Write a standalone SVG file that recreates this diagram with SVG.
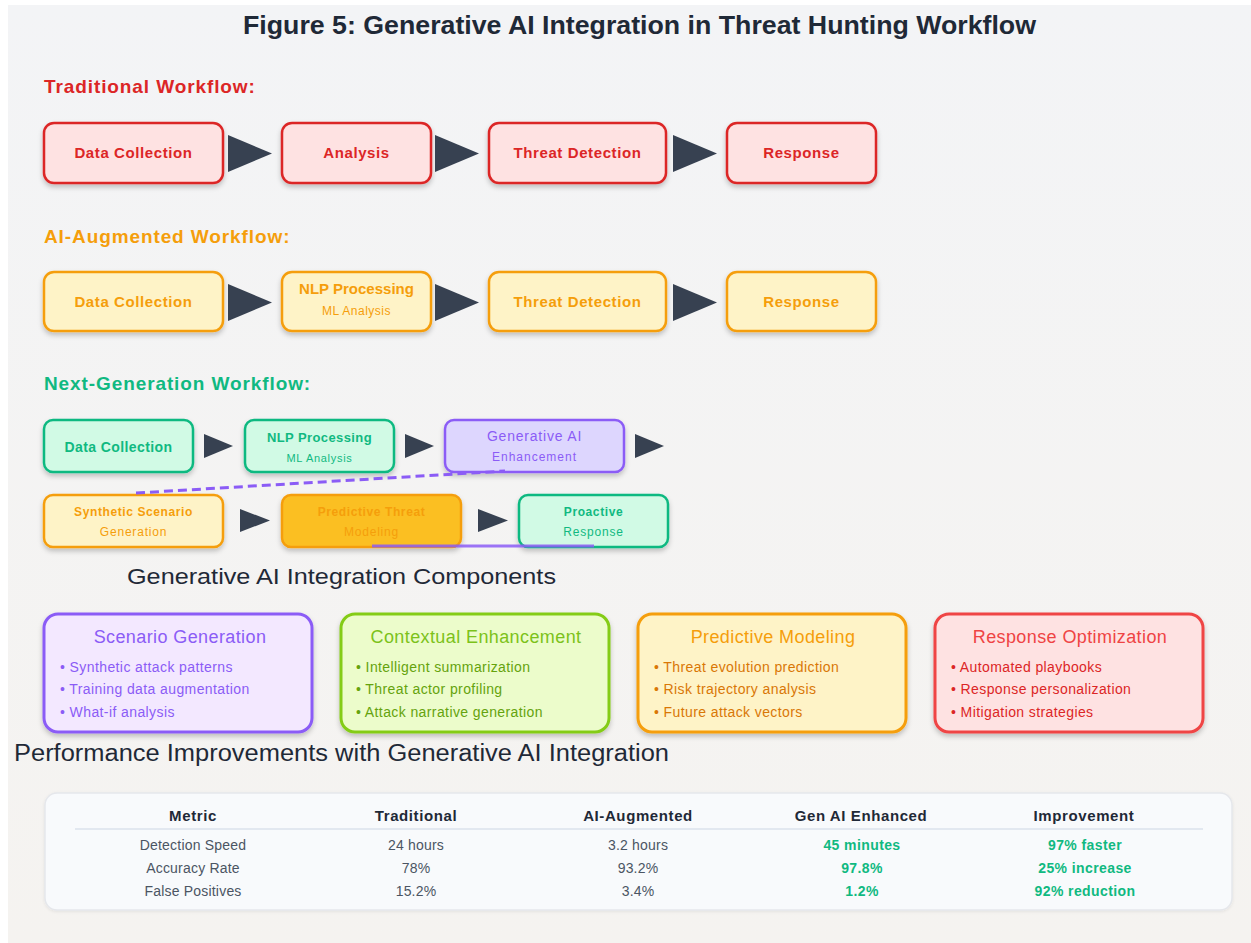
<svg xmlns="http://www.w3.org/2000/svg" width="1251" height="943" viewBox="0 0 1251 943">
  <defs>
    <linearGradient id="bg" x1="0" y1="0" x2="0" y2="1">
      <stop offset="0" stop-color="#f3f4f6"/>
      <stop offset="1" stop-color="#f5f3f0"/>
    </linearGradient>
    <filter id="shadow" x="-10%" y="-20%" width="120%" height="150%">
      <feDropShadow dx="0" dy="3" stdDeviation="2.5" flood-color="#000" flood-opacity="0.22"/>
    </filter>
    <filter id="softShadow" x="-5%" y="-10%" width="110%" height="130%">
      <feDropShadow dx="0" dy="1" stdDeviation="1.5" flood-color="#000" flood-opacity="0.08"/>
    </filter>
  </defs>
  <style>
    text { font-family: "Liberation Sans", Arial, sans-serif; }
    .title { font-size: 26px; font-weight: bold; fill: #1f2937; }
    .section { font-size: 19px; font-weight: bold; letter-spacing: 0.9px; }
    .h2 { font-size: 22px; fill: #1f2937; }
    .node { stroke-width: 2.5; filter: url(#shadow); }
    .red { fill: #fee2e2; stroke: #dc2626; }
    .amber { fill: #fef3c7; stroke: #f59e0b; }
    .amberDark { fill: #fbbf24; stroke: #f59e0b; }
    .green { fill: #d1fae5; stroke: #10b981; }
    .purple { fill: #ddd6fe; stroke: #8b5cf6; }
    .lbl { font-size: 15px; font-weight: bold; text-anchor: middle; letter-spacing: 0.6px; }
    .lblS { font-size: 12px; font-weight: bold; text-anchor: middle; letter-spacing: 0.6px; }
    .sub { font-size: 12px; text-anchor: middle; letter-spacing: 0.8px; }
    .tRed { fill: #dc2626; }
    .tAmber { fill: #f59e0b; }
    .tGreen { fill: #10b981; }
    .tPurple { fill: #8b5cf6; }
    .arrow { fill: #374151; }
    .card { stroke-width: 3; filter: url(#shadow); }
    .cardTitle { font-size: 18px; text-anchor: middle; letter-spacing: 0.4px; }
    .item { font-size: 14px; letter-spacing: 0.4px; }
    .th { font-size: 15px; font-weight: bold; fill: #1f2937; text-anchor: middle; letter-spacing: 0.6px; }
    .td { font-size: 14px; fill: #4b5563; text-anchor: middle; letter-spacing: 0.2px; }
    .tdG { font-size: 14px; font-weight: bold; fill: #10b981; text-anchor: middle; letter-spacing: 0.4px; }
  </style>

  <!-- page background -->
  <rect x="0" y="0" width="1251" height="943" fill="#ffffff"/>
  <rect x="8" y="5" width="1243" height="938" fill="url(#bg)"/>

  <text class="title" x="639.5" y="34" text-anchor="middle" textLength="793" lengthAdjust="spacingAndGlyphs">Figure 5: Generative AI Integration in Threat Hunting Workflow</text>

  <!-- Traditional workflow -->
  <text class="section tRed" x="44" y="93">Traditional Workflow:</text>
  <g id="trad-collection"><rect class="node red" x="44" y="123" width="179" height="60" rx="10"/><text class="lbl tRed" x="133.5" y="158">Data Collection</text></g>
  <g id="trad-analysis"><rect class="node red" x="282" y="123" width="149" height="60" rx="10"/><text class="lbl tRed" x="356.5" y="158">Analysis</text></g>
  <g id="trad-detection"><rect class="node red" x="489" y="123" width="177" height="60" rx="10"/><text class="lbl tRed" x="577.5" y="158">Threat Detection</text></g>
  <g id="trad-response"><rect class="node red" x="727" y="123" width="149" height="60" rx="10"/><text class="lbl tRed" x="801.5" y="158">Response</text></g>

  <!-- AI-augmented workflow -->
  <text class="section tAmber" x="44" y="243">AI-Augmented Workflow:</text>
  <g id="aug-collection"><rect class="node amber" x="44" y="272" width="179" height="59" rx="10"/><text class="lbl tAmber" x="133.5" y="307">Data Collection</text></g>
  <g id="aug-nlp"><rect class="node amber" x="282" y="272" width="149" height="59" rx="10"/><text class="lbl tAmber" x="356.5" y="294" style="letter-spacing:0">NLP Processing</text><text class="sub tAmber" x="356.5" y="315" style="letter-spacing:0.5px">ML Analysis</text></g>
  <g id="aug-detection"><rect class="node amber" x="489" y="272" width="177" height="59" rx="10"/><text class="lbl tAmber" x="577.5" y="307">Threat Detection</text></g>
  <g id="aug-response"><rect class="node amber" x="727" y="272" width="149" height="59" rx="10"/><text class="lbl tAmber" x="801.5" y="307">Response</text></g>

  <!-- Next-generation workflow -->
  <text class="section tGreen" x="44" y="390">Next-Generation Workflow:</text>
  <g id="next-collection"><rect class="node green" x="44" y="420" width="149" height="52" rx="9"/><text class="lbl tGreen" x="118.5" y="452" style="font-size:14px;letter-spacing:0.4px">Data Collection</text></g>
  <g id="next-nlp"><rect class="node green" x="245" y="420" width="149" height="52" rx="9"/><text class="lblS tGreen" x="319.5" y="442" style="font-size:13px;letter-spacing:0.4px">NLP Processing</text><text class="sub tGreen" x="319.5" y="462" style="font-size:11px;letter-spacing:0.7px">ML Analysis</text></g>
  <g id="next-genai"><rect class="node purple" x="445" y="420" width="179" height="52" rx="9"/><text class="tPurple" x="534.5" y="441" text-anchor="middle" style="font-size:14px;letter-spacing:0.8px">Generative AI</text><text class="sub tPurple" x="534.5" y="461" style="letter-spacing:1px">Enhancement</text></g>
  <g id="next-synthetic"><rect class="node amber" x="44" y="495" width="179" height="52" rx="9"/><text class="lblS tAmber" x="133.5" y="516">Synthetic Scenario</text><text class="sub tAmber" x="133.5" y="536">Generation</text></g>
  <g id="next-predictive"><rect class="node amberDark" x="282" y="495" width="179" height="52" rx="9"/><text class="lblS tAmber" x="371.5" y="516">Predictive Threat</text><text class="sub tAmber" x="371.5" y="536">Modeling</text></g>
  <g id="next-proactive"><rect class="node green" x="519" y="495" width="149" height="52" rx="9"/><text class="lblS tGreen" x="593.5" y="516">Proactive</text><text class="sub tGreen" x="593.5" y="536">Response</text></g>

  <!-- connectors -->
  <g id="connectors">
    <polygon class="arrow" points="228,135 272,153.5 228,172"/>
    <polygon class="arrow" points="435,135 479,153.5 435,172"/>
    <polygon class="arrow" points="673,135 717,153.5 673,172"/>
    <polygon class="arrow" points="228,284 272,302.5 228,321"/>
    <polygon class="arrow" points="435,284 479,302.5 435,321"/>
    <polygon class="arrow" points="673,284 717,302.5 673,321"/>
    <polygon class="arrow" points="204,434 233,446 204,458"/>
    <polygon class="arrow" points="405,434 434,446 405,458"/>
    <polygon class="arrow" points="635,434 664,446 635,458"/>
    <polygon class="arrow" points="240,509 270,520.5 240,532"/>
    <polygon class="arrow" points="478,509 508,520.5 478,532"/>
    <path d="M136,493 L505,471" fill="none" stroke="#8b5cf6" stroke-width="3" stroke-dasharray="9,5"/>
    <path d="M372,546 L594,546" fill="none" stroke="#8b5cf6" stroke-width="3" stroke-opacity="0.85"/>
  </g>

  <!-- Integration components -->
  <text class="h2" x="127" y="584" textLength="429" lengthAdjust="spacingAndGlyphs">Generative AI Integration Components</text>

  <g id="comp-scenario">
    <rect class="card" x="44" y="614" width="268" height="118" rx="14" fill="#f3e8ff" stroke="#8b5cf6"/>
    <text class="cardTitle" x="180" y="643" fill="#8b5cf6">Scenario Generation</text>
    <text class="item" x="60" y="672" fill="#8b5cf6">• Synthetic attack patterns</text>
    <text class="item" x="60" y="694" fill="#8b5cf6">• Training data augmentation</text>
    <text class="item" x="60" y="717" fill="#8b5cf6">• What-if analysis</text>
  </g>
  <g id="comp-contextual">
    <rect class="card" x="341" y="614" width="268" height="118" rx="14" fill="#ecfccb" stroke="#84cc16"/>
    <text class="cardTitle" x="476" y="643" fill="#7cc21a">Contextual Enhancement</text>
    <text class="item" x="356" y="672" fill="#65a30d">• Intelligent summarization</text>
    <text class="item" x="356" y="694" fill="#65a30d">• Threat actor profiling</text>
    <text class="item" x="356" y="717" fill="#65a30d">• Attack narrative generation</text>
  </g>
  <g id="comp-predictive">
    <rect class="card" x="638" y="614" width="268" height="118" rx="14" fill="#fef3c7" stroke="#f59e0b"/>
    <text class="cardTitle" x="773" y="643" fill="#f59e0b">Predictive Modeling</text>
    <text class="item" x="654" y="672" fill="#d97706">• Threat evolution prediction</text>
    <text class="item" x="654" y="694" fill="#d97706">• Risk trajectory analysis</text>
    <text class="item" x="654" y="717" fill="#d97706">• Future attack vectors</text>
  </g>
  <g id="comp-response">
    <rect class="card" x="935" y="614" width="268" height="118" rx="14" fill="#fee2e2" stroke="#ef4444"/>
    <text class="cardTitle" x="1070" y="643" fill="#ef4444">Response Optimization</text>
    <text class="item" x="951" y="672" fill="#dc2626">• Automated playbooks</text>
    <text class="item" x="951" y="694" fill="#dc2626">• Response personalization</text>
    <text class="item" x="951" y="717" fill="#dc2626">• Mitigation strategies</text>
  </g>

  <!-- Performance table -->
  <text class="h2" x="14" y="761" style="font-size:23px" textLength="655" lengthAdjust="spacingAndGlyphs">Performance Improvements with Generative AI Integration</text>
  <g id="perf-table">
    <rect x="45" y="793" width="1187" height="117" rx="12" fill="#f8fafc" stroke="#e5e7eb" stroke-width="1.5" filter="url(#softShadow)"/>
    <text class="th" x="193" y="821">Metric</text>
    <text class="th" x="416" y="821">Traditional</text>
    <text class="th" x="638" y="821">AI-Augmented</text>
    <text class="th" x="861" y="821">Gen AI Enhanced</text>
    <text class="th" x="1084" y="821">Improvement</text>
    <line x1="75" y1="829" x2="1203" y2="829" stroke="#e2e8f0" stroke-width="2"/>
    <text class="td" x="193" y="850">Detection Speed</text>
    <text class="td" x="416" y="850">24 hours</text>
    <text class="td" x="638" y="850">3.2 hours</text>
    <text class="tdG" x="862" y="850">45 minutes</text>
    <text class="tdG" x="1085" y="850">97% faster</text>
    <text class="td" x="193" y="873">Accuracy Rate</text>
    <text class="td" x="416" y="873">78%</text>
    <text class="td" x="638" y="873">93.2%</text>
    <text class="tdG" x="862" y="873">97.8%</text>
    <text class="tdG" x="1085" y="873">25% increase</text>
    <text class="td" x="193" y="896">False Positives</text>
    <text class="td" x="416" y="896">15.2%</text>
    <text class="td" x="638" y="896">3.4%</text>
    <text class="tdG" x="862" y="896">1.2%</text>
    <text class="tdG" x="1085" y="896">92% reduction</text>
  </g>
</svg>
